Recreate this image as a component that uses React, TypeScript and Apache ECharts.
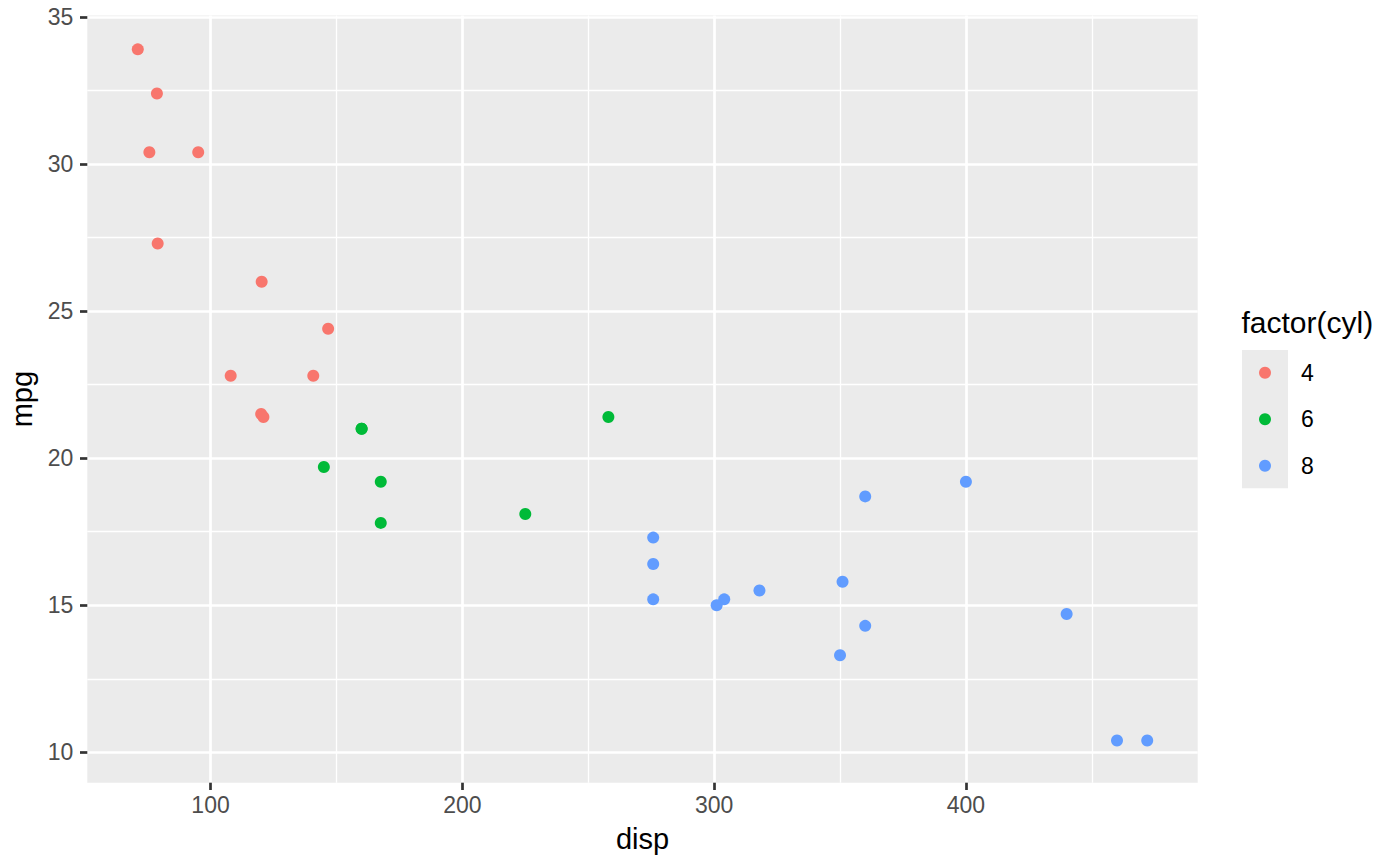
import React, { useEffect, useRef } from "react";
import * as echarts from "echarts";

// mtcars: disp, mpg, cyl
const disp = [160, 160, 108, 258, 360, 225, 360, 146.7, 140.8, 167.6, 167.6, 275.8, 275.8, 275.8, 472, 460, 440, 78.7, 75.7, 71.1, 120.1, 318, 304, 350, 400, 79, 120.3, 95.1, 351, 145, 301, 121];
const mpg = [21.0, 21.0, 22.8, 21.4, 18.7, 18.1, 14.3, 24.4, 22.8, 19.2, 17.8, 16.4, 17.3, 15.2, 10.4, 10.4, 14.7, 32.4, 30.4, 33.9, 21.5, 15.5, 15.2, 13.3, 19.2, 27.3, 26.0, 30.4, 15.8, 19.7, 15.0, 21.4];
const cyl = [6, 6, 4, 6, 8, 6, 8, 4, 4, 6, 6, 8, 8, 8, 8, 8, 8, 4, 4, 4, 4, 8, 8, 8, 8, 4, 4, 4, 8, 6, 8, 4];

const cylLevels = [4, 6, 8];
const cylColors = ["#F8766D", "#00BA38", "#619CFF"];

const xMajor = [100, 200, 300, 400];
const xMinor = [150, 250, 350, 450];
const yMajor = [10, 15, 20, 25, 30, 35];
const yMinor = [12.5, 17.5, 22.5, 27.5, 32.5];

const xRange = [51.05, 492.05];
const yRange = [8.967, 35.05];

const FONT = "'Liberation Sans', Arial, Helvetica, sans-serif";
const TICK_FS = 23;
const TITLE_FS = 29;

export default function App() {
  const ref = useRef<HTMLDivElement>(null);

  useEffect(() => {
    if (!ref.current) return;
    const chart = echarts.init(ref.current, undefined, { renderer: "svg" });

    const grid = {
      left: 87.3,
      top: 15.5,
      width: 1110.4,
      height: 767.2,
      show: true,
      backgroundColor: "#EBEBEB",
      borderWidth: 0,
      containLabel: false,
      outerBoundsMode: "none",
    };

    const series = cylLevels.map((lv, i) => ({
      name: String(lv),
      type: "scatter",
      xAxisIndex: 0,
      yAxisIndex: 0,
      symbol: "circle",
      symbolSize: 12,
      itemStyle: { color: cylColors[i], opacity: 1 },
      emphasis: { disabled: true },
      data: disp
        .map((d, k) => (cyl[k] === lv ? [d, mpg[k]] : null))
        .filter((v) => v !== null),
      z: 5,
    }));

    const option: any = {
      animation: false,
      grid,
      xAxis: [
        {
          type: "value",
          min: xRange[0],
          max: xRange[1],
          position: "bottom",
          axisLine: { show: false },
          axisTick: {
            show: true,
            customValues: xMajor,
            length: 7.3,
            lineStyle: { color: "#333333", width: 2.7 },
          },
          axisLabel: {
            customValues: xMajor,
            color: "#4D4D4D",
            fontSize: TICK_FS,
            fontFamily: FONT,
            margin: 10.8,
          },
          splitLine: { show: true, lineStyle: { color: "#FFFFFF", width: 2.7 } },
          name: "disp",
          nameLocation: "middle",
          nameGap: 41.5,
          nameTextStyle: { color: "#000000", fontSize: TITLE_FS, fontFamily: FONT },
          z: 3,
        },
        {
          type: "value",
          min: xRange[0],
          max: xRange[1],
          position: "bottom",
          axisLine: { show: false },
          axisTick: { show: false, customValues: xMinor },
          axisLabel: { show: false, customValues: xMinor },
          splitLine: { show: true, lineStyle: { color: "#FFFFFF", width: 1.35 } },
          z: 2,
        },
      ],
      yAxis: [
        {
          type: "value",
          min: yRange[0],
          max: yRange[1],
          position: "left",
          axisLine: { show: false },
          axisTick: {
            show: true,
            customValues: yMajor,
            length: 7.3,
            lineStyle: { color: "#333333", width: 2.7 },
          },
          axisLabel: {
            customValues: yMajor,
            color: "#4D4D4D",
            fontSize: TICK_FS,
            fontFamily: FONT,
            margin: 14,
          },
          splitLine: { show: true, lineStyle: { color: "#FFFFFF", width: 2.7 } },
          name: "mpg",
          nameLocation: "middle",
          nameGap: 48,
          nameRotate: 90,
          nameTextStyle: { color: "#000000", fontSize: TITLE_FS, fontFamily: FONT },
          z: 3,
        },
        {
          type: "value",
          min: yRange[0],
          max: yRange[1],
          position: "left",
          axisLine: { show: false },
          axisTick: { show: false, customValues: yMinor },
          axisLabel: { show: false, customValues: yMinor },
          splitLine: { show: true, lineStyle: { color: "#FFFFFF", width: 1.35 } },
          z: 2,
        },
      ],
      legend: {
        data: cylLevels.map(String),
        orient: "vertical",
        left: 1259,
        top: 361.2,
        padding: 0,
        itemWidth: 12,
        itemHeight: 12,
        itemGap: 23.5,
        icon: "circle",
        selectedMode: false,
        textStyle: {
          fontSize: TICK_FS,
          lineHeight: 23,
          color: "#000000",
          fontFamily: FONT,
          padding: [0, 0, 0, 25],
        },
        z: 10,
      },
      graphic: [
        {
          type: "rect",
          shape: { x: 1242, y: 350, width: 46, height: 138.3 },
          style: { fill: "#EBEBEB" },
          z: 1,
        },
        {
          type: "text",
          x: 1241.5,
          y: 322.5,
          style: {
            text: "factor(cyl)",
            fontSize: 30,
            fontFamily: FONT,
            fill: "#000000",
            textAlign: "left",
            textVerticalAlign: "middle",
            verticalAlign: "middle",
          },
          z: 1,
        },
      ],
      series,
    };

    chart.setOption(option);
    return () => chart.dispose();
  }, []);

  return (
    <div
      ref={ref}
      style={{ position: "fixed", left: 0, top: 0, width: 1400, height: 866, background: "#FFFFFF" }}
    />
  );
}
